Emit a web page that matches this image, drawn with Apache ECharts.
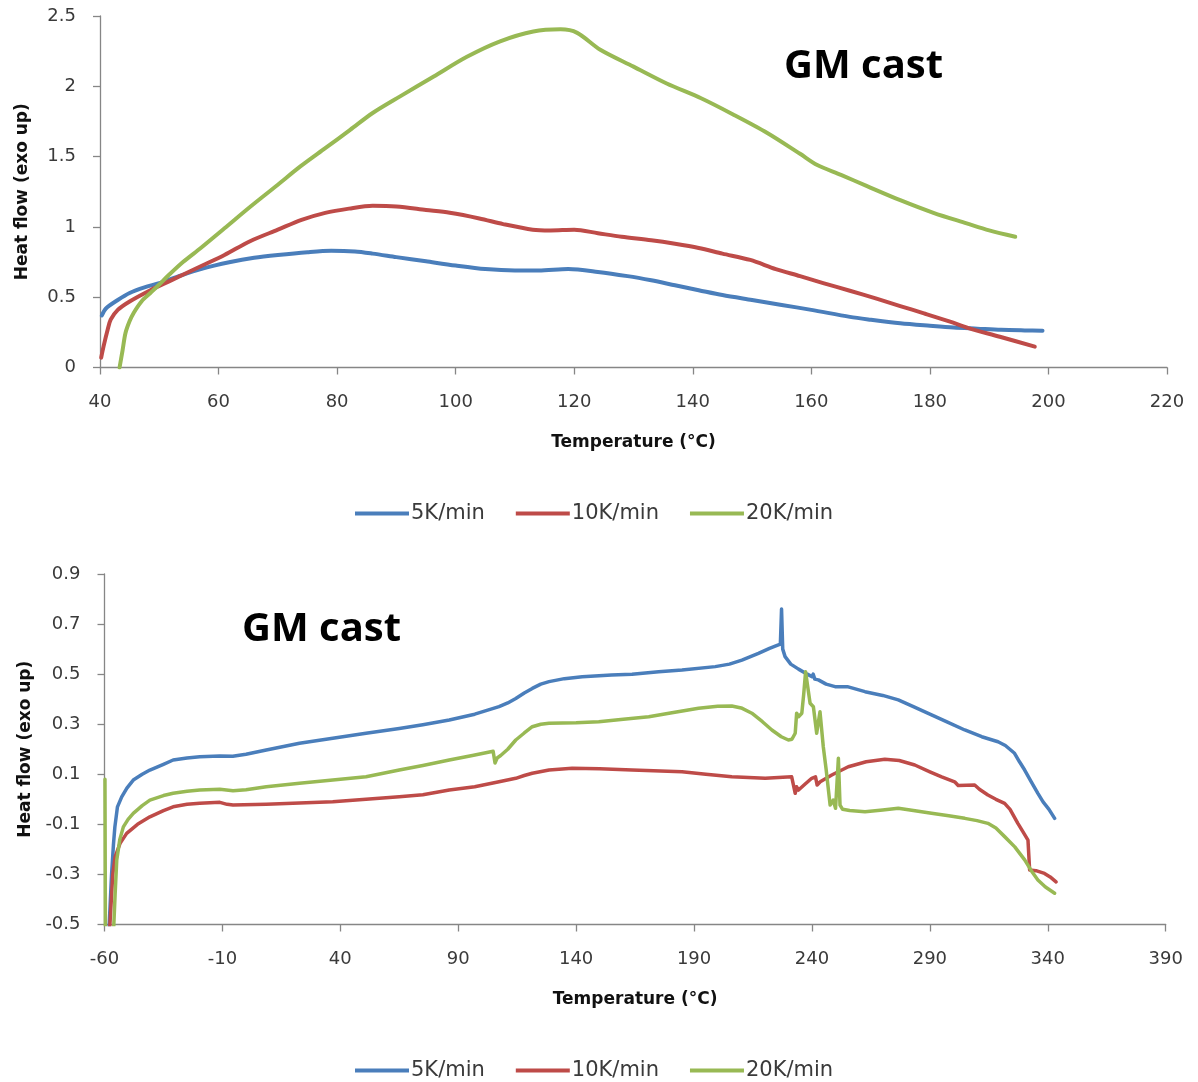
<!DOCTYPE html>
<html>
<head>
<meta charset="utf-8">
<title>GM cast – DSC heat flow</title>
<script src="https://cdn.jsdelivr.net/npm/echarts@6/dist/echarts.min.js"></script>
<style>
  html, body { margin: 0; padding: 0; background: #fff; }
  #chart { width: 1198px; height: 1082px; }
</style>
</head>
<body>
<div id="chart"></div>
<script>
// Series names and colours (heating rates)
const rateNames = ['5K/min', '10K/min', '20K/min'];
const rateColors = ['#4A7EBB', '#BE4B48', '#98B954'];

// Upper panel axis ticks
const upperXTicks = { min: 40, max: 220, step: 20 };
const upperYTicks = { min: 0, max: 2.5, step: 0.5 };
// Lower panel axis ticks
const lowerXTicks = { min: -60, max: 390, step: 50 };
const lowerYTicks = { min: -0.5, max: 0.9, step: 0.2 };

// Upper panel: [temperature °C, heat flow]
const upper5K = [[40.3,0.37],[41,0.42],[43,0.48],[45,0.53],[47.5,0.57],[50,0.60],[53,0.645],[57,0.70],[62,0.75],[66,0.78],[70,0.80],[75,0.82],[79,0.83],[83,0.825],[86,0.81],[90,0.785],[95,0.755],[100,0.725],[105,0.70],[110,0.69],[114,0.69],[119,0.70],[124,0.68],[129,0.65],[133,0.62],[137,0.585],[141,0.55],[145,0.515],[150,0.48],[155,0.445],[160,0.41],[166.5,0.36],[170,0.34],[175,0.315],[180,0.297],[184,0.284],[188,0.276],[192,0.268],[196,0.264],[199,0.262]];
const upper10K = [[40.2,0.07],[40.6,0.15],[41.3,0.27],[41.8,0.34],[43,0.41],[45,0.47],[48.5,0.55],[52,0.62],[57,0.72],[61,0.80],[65.4,0.9],[70,0.98],[74,1.05],[78,1.10],[82,1.13],[86,1.15],[90,1.145],[95,1.12],[99,1.10],[104,1.06],[108,1.02],[113,0.98],[116,0.975],[120,0.98],[124,0.955],[128,0.93],[133,0.905],[137,0.88],[141,0.85],[145,0.81],[149.7,0.765],[154,0.70],[158.1,0.65],[162,0.60],[166.5,0.546],[171,0.49],[175,0.437],[179,0.385],[183.4,0.326],[186.5,0.28],[191.8,0.219],[197.7,0.148]];
const upper20K = [[43.3,0],[43.8,0.12],[44.3,0.245],[45,0.33],[45.7,0.39],[47,0.47],[48.5,0.53],[50,0.59],[51.3,0.645],[54,0.75],[57,0.85],[61,0.99],[65.4,1.145],[70,1.3],[73.8,1.43],[78,1.56],[82.2,1.69],[86,1.81],[90.7,1.93],[96.3,2.07],[101.9,2.21],[107.5,2.32],[113.1,2.39],[117.7,2.405],[120.5,2.38],[124.4,2.26],[130,2.14],[135.6,2.02],[141.4,1.915],[146.8,1.80],[152.5,1.67],[158.1,1.52],[161,1.44],[165,1.37],[169.4,1.29],[175,1.19],[180.6,1.10],[186.2,1.025],[190,0.975],[194.4,0.93]];

// Lower panel: [temperature °C, heat flow]
const lower5K = [[-58.5,-0.6],[-57,-0.3],[-56.2,-0.18],[-55.6,-0.11],[-54.5,-0.03],[-52.7,0.01],[-50.5,0.045],[-47.8,0.077],[-44,0.1],[-40.75,0.117],[-35,0.14],[-30.9,0.157],[-25,0.165],[-19.6,0.17],[-11.1,0.173],[-5.6,0.172],[0,0.18],[8.6,0.197],[22.7,0.224],[36.8,0.244],[50.9,0.264],[65,0.283],[75,0.298],[86.2,0.317],[97,0.34],[107.3,0.37],[111,0.385],[114.4,0.403],[118,0.425],[121.4,0.443],[125,0.46],[128.5,0.47],[135,0.482],[142.6,0.49],[155,0.497],[163.7,0.50],[175,0.51],[184.9,0.517],[199,0.53],[205,0.54],[210.3,0.556],[217.3,0.583],[222,0.603],[224.4,0.612],[226.6,0.62],[227.1,0.76],[227.6,0.60],[228.6,0.57],[231,0.54],[234.3,0.52],[238,0.50],[240,0.49],[240.5,0.50],[241.2,0.48],[242.7,0.477],[246,0.46],[249.8,0.45],[255,0.45],[262.5,0.43],[270,0.415],[276.6,0.397],[283,0.37],[290.7,0.337],[297,0.31],[304.8,0.277],[312,0.25],[318.9,0.23],[322,0.215],[325.9,0.184],[328,0.15],[330.2,0.117],[333,0.07],[335.8,0.024],[338,-0.01],[340.5,-0.04],[342.9,-0.076]];
const lower10K = [[-58.3,-0.6],[-56.5,-0.3],[-55.5,-0.23],[-53.4,-0.176],[-50.6,-0.136],[-46,-0.1],[-40.75,-0.07],[-35,-0.045],[-30.9,-0.03],[-25,-0.02],[-19.6,-0.016],[-11.1,-0.012],[-8,-0.02],[-5.5,-0.023],[8.6,-0.02],[22.7,-0.015],[36.8,-0.01],[50.9,0],[65,0.01],[75,0.018],[86.2,0.037],[97,0.05],[107.3,0.07],[114.4,0.084],[118,0.095],[121.4,0.104],[128.5,0.117],[138.3,0.124],[150,0.122],[163.7,0.117],[184.9,0.11],[195,0.10],[206,0.09],[220.2,0.084],[231.4,0.09],[232.2,0.09],[232.9,0.024],[233.5,0.05],[234.3,0.037],[237,0.06],[239.9,0.084],[241.5,0.09],[242.2,0.057],[243.5,0.07],[248.4,0.097],[255.4,0.13],[263,0.15],[270.9,0.16],[277,0.155],[283.6,0.137],[290,0.11],[295,0.09],[300.5,0.07],[302,0.055],[309,0.057],[311,0.04],[314.6,0.017],[318,0],[321.7,-0.016],[324,-0.04],[327.3,-0.096],[329.5,-0.13],[331.6,-0.163],[332.3,-0.282],[335,-0.285],[338.6,-0.296],[341,-0.31],[343.5,-0.33]];
const lower20K = [[-59.8,0.08],[-59.6,-0.6],[-56.5,-0.6],[-55.5,-0.38],[-54.8,-0.242],[-53.5,-0.16],[-52,-0.11],[-50,-0.08],[-47.8,-0.056],[-44,-0.025],[-40.75,-0.003],[-35,0.015],[-30.9,0.024],[-25,0.032],[-19.6,0.037],[-11.1,0.04],[-5.5,0.034],[0,0.038],[8.6,0.05],[22.7,0.064],[36.8,0.077],[50.9,0.09],[65,0.117],[75,0.135],[86.2,0.157],[96,0.175],[104.8,0.192],[105.6,0.145],[106.5,0.165],[108,0.175],[111,0.2],[114.4,0.237],[118,0.265],[121.4,0.29],[125,0.30],[128.5,0.304],[140,0.306],[149.6,0.31],[160,0.32],[170.8,0.33],[180,0.345],[191.9,0.364],[200,0.372],[206,0.373],[210,0.365],[214.5,0.344],[219,0.31],[223,0.277],[227,0.25],[230,0.237],[231.5,0.24],[232.9,0.264],[233.5,0.344],[234.3,0.33],[235.7,0.344],[236.5,0.42],[237.3,0.51],[238.2,0.45],[239.2,0.384],[240.6,0.37],[242,0.264],[243.4,0.35],[244.8,0.21],[246,0.12],[247.7,-0.023],[249,-0.003],[250,-0.036],[251.2,0.164],[251.9,-0.023],[253,-0.04],[256,-0.045],[262.5,-0.05],[270,-0.043],[276.6,-0.036],[283,-0.045],[290.7,-0.056],[298,-0.066],[304.8,-0.076],[310,-0.085],[314.6,-0.096],[318,-0.115],[321.7,-0.149],[326,-0.19],[330.2,-0.242],[333,-0.285],[335.8,-0.322],[339,-0.35],[342.9,-0.375]];

const panelTitle = 'GM cast';
const xName = 'Temperature (°C)';
const yName = 'Heat flow (exo up)';

const axisGrey = '#868686';
const labelColor = '#3a3a3a';
const tickFont = 'DejaVu Sans';

function xAxis(gridIndex, t) {
  return {
    type: 'value', gridIndex, min: t.min, max: t.max, interval: t.step,
    name: xName, nameLocation: 'middle', nameGap: 67,
    nameTextStyle: { fontFamily: tickFont, fontWeight: 'bold', fontSize: 17, color: '#111' },
    axisLine: { show: true, onZero: false, lineStyle: { color: axisGrey, width: 1.3 } },
    axisTick: { show: true, inside: false, length: 7, lineStyle: { color: axisGrey, width: 1.3 } },
    axisLabel: { margin: 26, fontFamily: tickFont, fontSize: 18, color: labelColor },
    splitLine: { show: false }
  };
}
function yAxis(gridIndex, t, fmt) {
  return {
    type: 'value', gridIndex, min: t.min, max: t.max, interval: t.step,
    name: yName, nameLocation: 'middle', nameGap: 69,
    nameTextStyle: { fontFamily: tickFont, fontWeight: 'bold', fontSize: 17, color: '#111' },
    axisLine: { show: true, onZero: false, lineStyle: { color: axisGrey, width: 1.3 } },
    axisTick: { show: true, inside: false, length: 7, lineStyle: { color: axisGrey, width: 1.3 } },
    axisLabel: { margin: 24, fontFamily: tickFont, fontSize: 18, color: labelColor, formatter: fmt },
    splitLine: { show: false }
  };
}
function legend(top) {
  return {
    top, left: 355, padding: 0, orient: 'horizontal', icon: 'rect',
    itemWidth: 54, itemHeight: 4, itemGap: 31,
    data: rateNames,
    textStyle: { fontFamily: tickFont, fontSize: 21, color: labelColor, padding: [0, 0, 0, -3] }
  };
}
function lineSeries(name, idx, data, axisIndex, width, smooth) {
  return {
    type: 'line', name, data, xAxisIndex: axisIndex, yAxisIndex: axisIndex,
    showSymbol: false, symbol: 'none', smooth, clip: true,
    lineStyle: { color: rateColors[idx], width, cap: 'round', join: 'round' },
    itemStyle: { color: rateColors[idx] }
  };
}

const chart = echarts.init(document.getElementById('chart'), null, { renderer: 'canvas' });
chart.setOption({
  animation: false,
  backgroundColor: '#ffffff',
  textStyle: { fontFamily: tickFont },
  title: [
    { text: panelTitle, left: 784, top: 47, padding: 0,
      textStyle: { fontFamily: 'Open Sans', fontWeight: 'bold', fontSize: 40, color: '#000' } },
    { text: panelTitle, left: 242, top: 610, padding: 0,
      textStyle: { fontFamily: 'Open Sans', fontWeight: 'bold', fontSize: 40, color: '#000' } }
  ],
  legend: [legend(503), legend(1060)],
  grid: [
    { left: 100, top: 16, right: 31, height: 351.5, containLabel: false, outerBoundsMode: 'none' },
    { left: 104.5, top: 574, right: 32.3, height: 350.5, containLabel: false, outerBoundsMode: 'none' }
  ],
  xAxis: [xAxis(0, upperXTicks), xAxis(1, lowerXTicks)],
  yAxis: [yAxis(0, upperYTicks), yAxis(1, lowerYTicks, v => v.toFixed(1))],
  series: [
    lineSeries(rateNames[0], 0, upper5K, 0, 4, 0.3),
    lineSeries(rateNames[1], 1, upper10K, 0, 4, 0.3),
    lineSeries(rateNames[2], 2, upper20K, 0, 4, 0.3),
    lineSeries(rateNames[0], 0, lower5K, 1, 3.5, false),
    lineSeries(rateNames[1], 1, lower10K, 1, 3.5, false),
    lineSeries(rateNames[2], 2, lower20K, 1, 3.5, false)
  ]
});
</script>
</body>
</html>
